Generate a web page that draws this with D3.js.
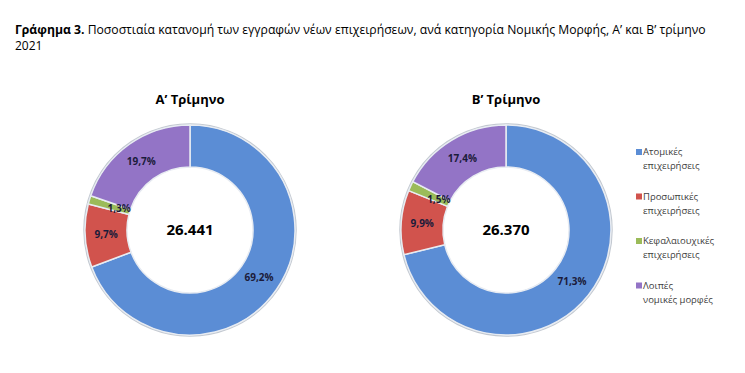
<!DOCTYPE html>
<html>
<head>
<meta charset="utf-8">
<script src="https://cdn.jsdelivr.net/npm/d3@7"></script>
<style>
body { margin: 0; background: #fff; }
svg { font-family: "Open Sans", sans-serif; }
</style>
</head>
<body>
<script>
// data
var categories = ["Ατομικές επιχειρήσεις", "Προσωπικές επιχειρήσεις", "Κεφαλαιουχικές επιχειρήσεις", "Λοιπές νομικές μορφές"];
var legendLines = [["Ατομικές", "επιχειρήσεις"], ["Προσωπικές", "επιχειρήσεις"], ["Κεφαλαιουχικές", "επιχειρήσεις"], ["Λοιπές", "νομικές μορφές"]];
var quarters = ["Α’ Τρίμηνο", "Β’ Τρίμηνο"];
var totals = ["26.441", "26.370"];
var shareQ1 = [69.2, 9.7, 1.3, 19.7];
var shareQ2 = [71.3, 9.9, 1.5, 17.4];
var colours = ["#5b8dd5", "#d1534d", "#9bbb59", "#9374c6"];

var width = 745, height = 373;
var svg = d3.select("body").append("svg")
  .attr("width", width)
  .attr("height", height);

// heading
var head = svg.append("text").attr("x", 15).attr("y", 34)
  .attr("font-size", "12.2px").attr("fill", "#000");
head.append("tspan").attr("font-weight", "bold").text("Γράφημα 3.");
head.append("tspan").text(" Ποσοστιαία κατανομή των εγγραφών νέων επιχειρήσεων, ανά κατηγορία Νομικής Μορφής, Α’ και Β’ τρίμηνο");
svg.append("text").attr("x", 15).attr("y", 50).attr("font-size", "12px").text("2021");

var color = d3.scaleOrdinal().domain(categories).range(colours);
var pie = d3.pie().sort(null).value(function(d) { return d.v; });
var outerR = 105, innerR = 63;
var arc = d3.arc().outerRadius(outerR).innerRadius(innerR);
var label = d3.arc().outerRadius(84).innerRadius(84);
var smallLabel = d3.arc().outerRadius(74).innerRadius(74);

function drawDonut(cx, title, total, values) {
  var g = svg.append("g").attr("transform", "translate(" + cx + ",230)");
  var data = values.map(function(v, i) { return { c: categories[i], v: v }; });
  var arcs = pie(data);

  svg.append("text").attr("x", cx).attr("y", 104)
    .attr("text-anchor", "middle").attr("font-size", "13px").attr("font-weight", "bold")
    .text(title);

  // soft shadow ring
  g.append("circle").attr("r", outerR + 1).attr("fill", "none")
    .attr("stroke", "#9aa4b0").attr("stroke-width", 1.5).attr("opacity", 0.6);

  g.selectAll(".slice").data(arcs).enter().append("path")
    .attr("class", "slice")
    .attr("d", arc)
    .attr("fill", function(d) { return color(d.data.c); })
    .attr("stroke", "#e8ecf2")
    .attr("stroke-width", 1.5);

  g.selectAll(".lbl").data(arcs).enter().append("text")
    .attr("class", "lbl")
    .attr("transform", function(d) {
      var a = d.data.v < 3 ? smallLabel : label;
      return "translate(" + a.centroid(d) + ")";
    })
    .attr("dy", "0.35em")
    .attr("text-anchor", "middle")
    .attr("font-size", "10px").attr("font-weight", "bold")
    .attr("fill", "#1b1b3a")
    .text(function(d) { return d3.format(".1f")(d.data.v).replace(".", ",") + "%"; });

  g.append("text").attr("y", 0).attr("dy", "0.35em")
    .attr("text-anchor", "middle").attr("font-size", "15px").attr("font-weight", "bold")
    .text(total);
}

drawDonut(190, quarters[0], totals[0], shareQ1);
drawDonut(506, quarters[1], totals[1], shareQ2);

// legend
var leg = svg.append("g").attr("transform", "translate(636,155)");
var items = leg.selectAll(".li").data(categories).enter().append("g")
  .attr("transform", function(d, i) { return "translate(0," + (i * 44.5) + ")"; });
items.append("rect").attr("x", 0).attr("y", -6).attr("width", 6).attr("height", 6)
  .attr("fill", function(d) { return color(d); });
items.each(function(d, i) {
  var t = d3.select(this).append("text").attr("font-size", "9.5px").attr("fill", "#404040");
  t.append("tspan").attr("x", 7).attr("y", 0).text(legendLines[i][0]);
  t.append("tspan").attr("x", 7).attr("y", 14).text(legendLines[i][1]);
});
</script>
</body>
</html>
